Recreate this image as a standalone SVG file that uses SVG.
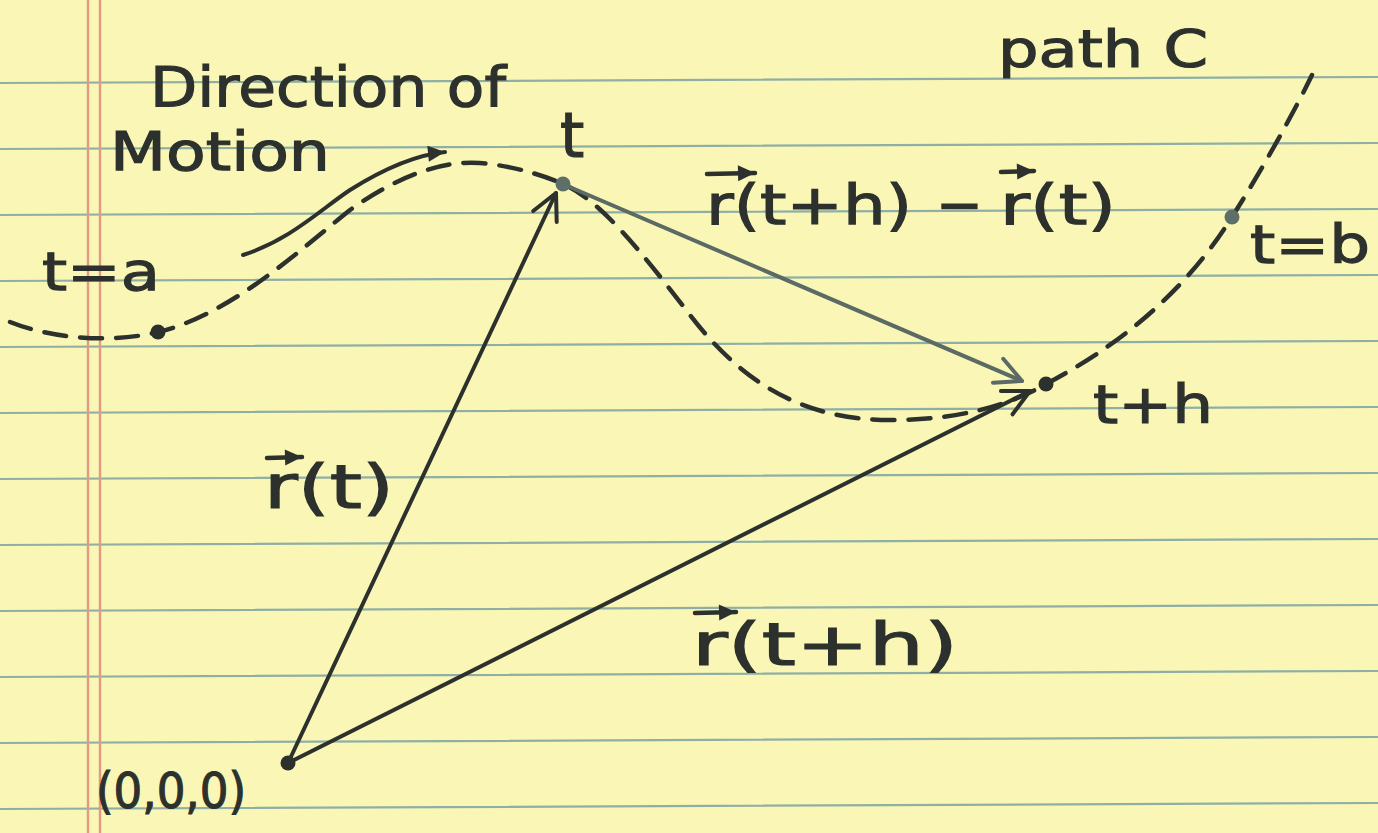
<svg xmlns="http://www.w3.org/2000/svg" width="1378" height="833" viewBox="0 0 1378 833">
<style>
.paper{fill:#faf7b6}
.rule{stroke:#8fafa5;stroke-width:2.2;fill:none}
.margin{stroke:#e39a85;stroke-width:2.4;fill:none}
.ink{font-family:"DejaVu Sans","Liberation Sans",sans-serif;fill:#2d312d;stroke:#2d312d;stroke-width:1.2}
.curve{fill:none;stroke:#2d312d;stroke-width:4.5;stroke-dasharray:22 14;stroke-linecap:round}
.vec{fill:none;stroke:#2d312d;stroke-width:4;stroke-linecap:round}
.vecg{fill:none;stroke:#5b6a65;stroke-width:4;stroke-linecap:round}
.over{fill:none;stroke:#2d312d;stroke-width:4.5;stroke-linecap:round}
</style>
<defs>
<marker id="veeD" viewBox="-30 -16 34 32" refX="0" refY="0" markerWidth="34" markerHeight="32" markerUnits="userSpaceOnUse" orient="auto">
<path d="M -26 -13 L 0 0 L -26 13" fill="none" stroke="#2d312d" stroke-width="4" stroke-linecap="round" stroke-linejoin="round"/>
</marker>
<marker id="veeG" viewBox="-30 -16 34 32" refX="0" refY="0" markerWidth="34" markerHeight="32" markerUnits="userSpaceOnUse" orient="auto">
<path d="M -26 -13 L 0 0 L -26 13" fill="none" stroke="#5b6a65" stroke-width="4" stroke-linecap="round" stroke-linejoin="round"/>
</marker>
<marker id="headD" viewBox="-18 -10 20 20" refX="0" refY="0" markerWidth="20" markerHeight="20" markerUnits="userSpaceOnUse" orient="auto">
<path d="M -17 -8 L 0 0 L -17 8 Z" fill="#2d312d"/>
</marker>
</defs>

<g id="paper">
<rect class="paper" x="0" y="0" width="1378" height="833"/>
<path class="rule" d="M0 83 L1378 77 M0 149 L1378 143 M0 215 L1378 209 M0 281 L1378 275 M0 347 L1378 341 M0 413 L1378 407 M0 479 L1378 473 M0 545 L1378 539 M0 611 L1378 605 M0 677 L1378 671 M0 743 L1378 737 M0 809 L1378 803"/>
<path class="margin" d="M88 0 L88 833 M100 0 L100 833"/>
</g>

<g id="connectors">
<path id="pathC" class="curve" d="M 10 322 C 50 338, 110 344, 158 332 C 230 315, 300 250, 350 210 C 395 178, 440 160, 480 163 C 515 166, 545 176, 563 184 C 600 200, 640 250, 690 315 C 740 380, 800 420, 890 420 C 960 420, 1010 405, 1046 384 C 1110 350, 1180 300, 1232 217 C 1265 165, 1295 110, 1312 75"/>
<path id="motion-arrow" class="vec" d="M 243 255 C 290 240, 320 210, 350 190 C 385 168, 415 155, 445 152" marker-end="url(#headD)"/>
<line id="vec-rt" class="vec" x1="288" y1="763" x2="556" y2="193" marker-end="url(#veeD)"/>
<line id="vec-rth" class="vec" x1="288" y1="763" x2="1030" y2="391" marker-end="url(#veeD)"/>
<line id="vec-diff" class="vecg" x1="565" y1="185" x2="1022" y2="381" marker-end="url(#veeG)"/>
</g>

<g id="point-a">
<circle cx="158" cy="332" r="7.5" fill="#2d312d"/>
<text class="ink" x="42" y="290" font-size="54" textLength="118" lengthAdjust="spacingAndGlyphs">t=a</text>
</g>

<g id="point-t">
<circle cx="563" cy="184" r="7.5" fill="#5e6e68"/>
<text class="ink" x="560" y="157" font-size="62">t</text>
</g>

<g id="point-th">
<circle cx="1046" cy="384" r="7.5" fill="#2d312d"/>
<text class="ink" x="1093" y="423" font-size="54" textLength="120" lengthAdjust="spacingAndGlyphs">t+h</text>
</g>

<g id="point-b">
<circle cx="1232" cy="217" r="7.5" fill="#5e6e68"/>
<text class="ink" x="1250" y="263" font-size="54" textLength="120" lengthAdjust="spacingAndGlyphs">t=b</text>
</g>

<g id="origin">
<circle cx="288" cy="763" r="7.5" fill="#2d312d"/>
<text class="ink" x="96" y="808" font-size="50" textLength="150" lengthAdjust="spacingAndGlyphs">(0,0,0)</text>
</g>

<g id="label-direction">
<text class="ink" x="150" y="106" font-size="56" textLength="356" lengthAdjust="spacingAndGlyphs">Direction of</text>
<text class="ink" x="110" y="170" font-size="54" textLength="220" lengthAdjust="spacingAndGlyphs">Motion</text>
</g>

<g id="label-path">
<text class="ink" x="998" y="67" font-size="52" textLength="210" lengthAdjust="spacingAndGlyphs">path C</text>
</g>

<g id="label-rt">
<text class="ink" x="264" y="508" font-size="60" textLength="130" lengthAdjust="spacingAndGlyphs">r(t)</text>
<path class="over" d="M 267 458 L 302 457" marker-end="url(#headD)"/>
</g>

<g id="label-rth">
<text class="ink" x="692" y="665" font-size="58" textLength="266" lengthAdjust="spacingAndGlyphs">r(t+h)</text>
<path class="over" d="M 695 613 L 736 612" marker-end="url(#headD)"/>
</g>

<g id="label-diff">
<text class="ink" x="706" y="224" font-size="56" textLength="206" lengthAdjust="spacingAndGlyphs">r(t+h)</text>
<text class="ink" x="936" y="224" font-size="56">−</text>
<text class="ink" x="1000" y="224" font-size="56" textLength="116" lengthAdjust="spacingAndGlyphs">r(t)</text>
<path class="over" d="M 707 174 L 755 173" marker-end="url(#headD)"/>
<path class="over" d="M 1001 172 L 1034 171" marker-end="url(#headD)"/>
</g>
</svg>
